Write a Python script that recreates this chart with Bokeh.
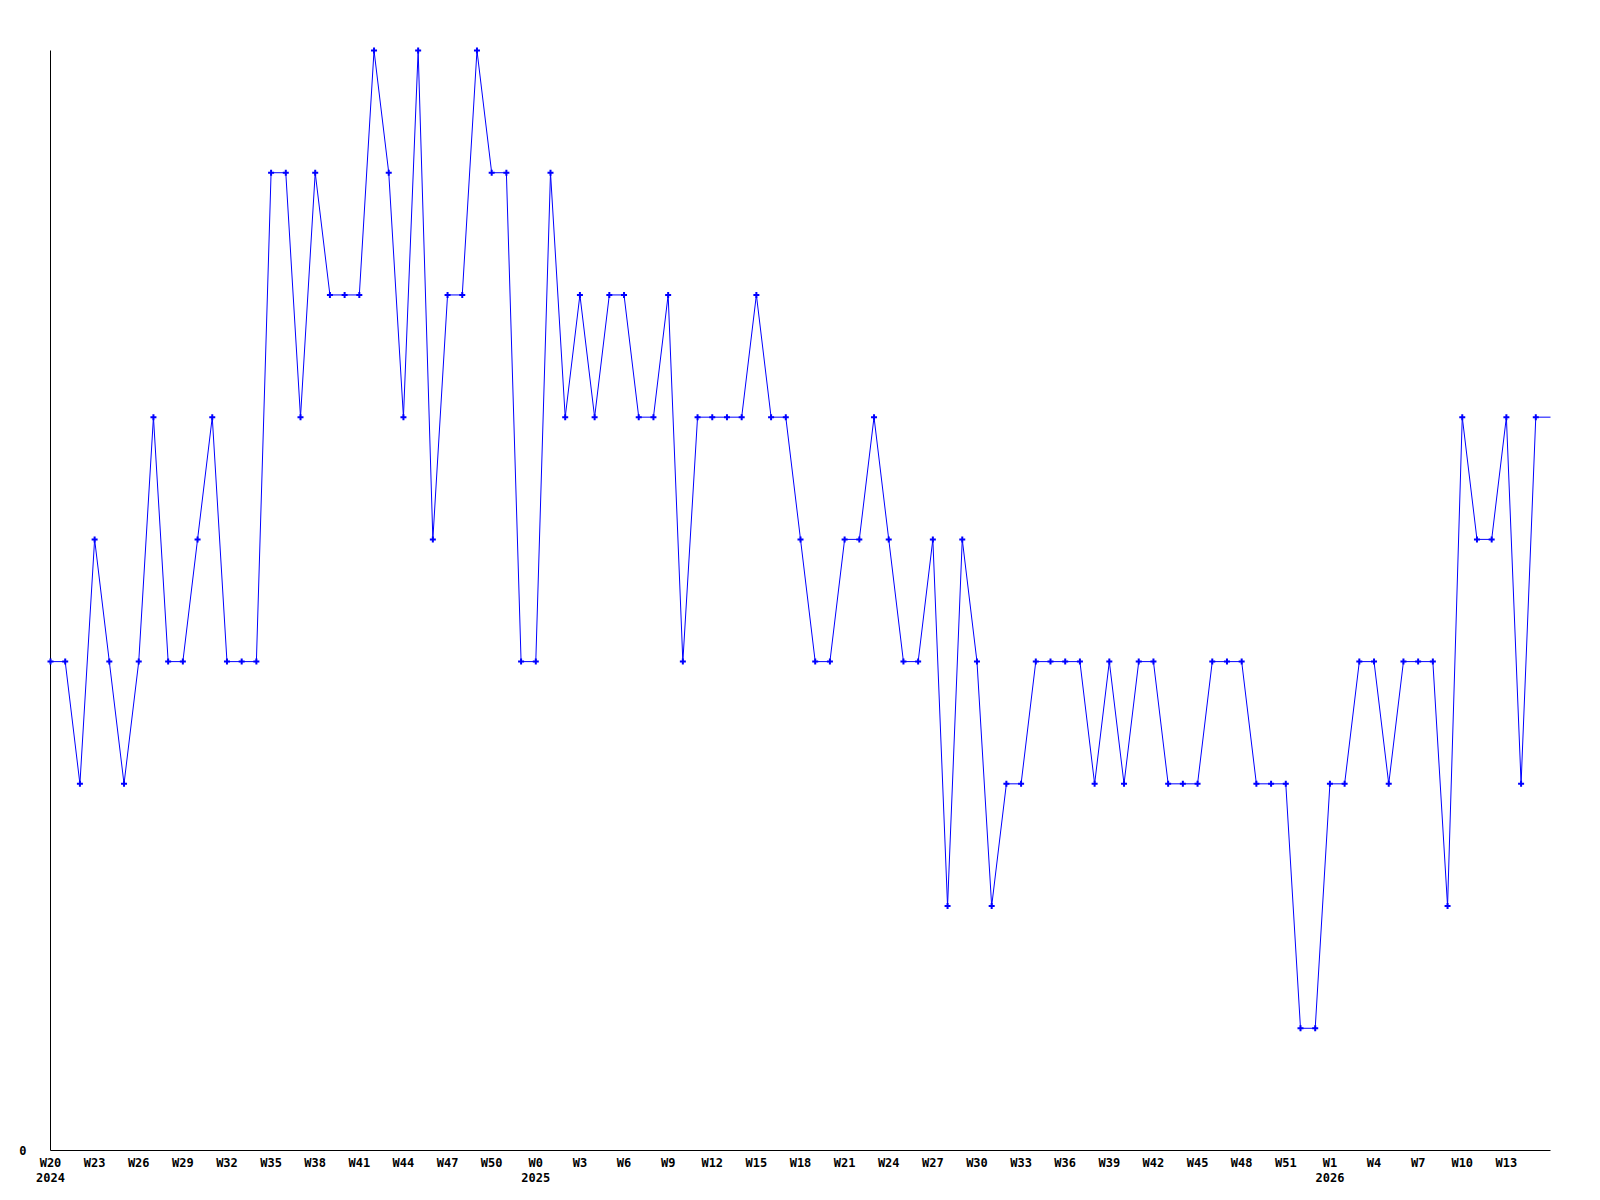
from bokeh.plotting import figure
from bokeh.models import Range1d, FixedTicker, LinearAxis, ColumnDataSource
from bokeh.embed import file_html
from bokeh.resources import INLINE

# weekly values, starting at week 20 of 2024
values = [4, 4, 3, 5, 4, 3, 4, 6, 4, 4,
          5, 6, 4, 4, 4, 8, 8, 6, 8, 7,
          7, 7, 9, 8, 6, 9, 5, 7, 7, 9,
          8, 8, 4, 4, 8, 6, 7, 6, 7, 7,
          6, 6, 7, 4, 6, 6, 6, 6, 7, 6,
          6, 5, 4, 4, 5, 5, 6, 5, 4, 4,
          5, 2, 5, 4, 2, 3, 3, 4, 4, 4,
          4, 3, 4, 3, 4, 4, 3, 3, 3, 4,
          4, 4, 3, 3, 3, 1, 1, 3, 3, 4,
          4, 3, 4, 4, 4, 2, 6, 5, 5, 6,
          3, 6]
# current (partial) week, drawn as line only
current_value = 6

week_labels = ["W20", "W23", "W26", "W29", "W32", "W35", "W38", "W41", "W44",
               "W47", "W50", "W0", "W3", "W6", "W9", "W12", "W15", "W18",
               "W21", "W24", "W27", "W30", "W33", "W36", "W39", "W42", "W45",
               "W48", "W51", "W1", "W4", "W7", "W10", "W13"]
week_label_pos = [3 * i for i in range(len(week_labels))]
year_labels = ["2024", "2025", "2026"]
year_label_pos = [0, 33, 87]
y_tick_labels = ["0"]
y_tick_pos = [0]

idx = list(range(len(values)))
line_x = idx + [len(values)]
line_y = values + [current_value]

BLUE = "#0000ff"
FONT = "DejaVu Sans Mono"

p = figure(width=1584, height=1184,
           x_range=Range1d(0, len(values)), y_range=Range1d(0, 9),
           x_axis_type=None, y_axis_type=None,
           output_backend="svg", toolbar_location=None,
           min_border_left=50, min_border_right=34,
           min_border_top=50, min_border_bottom=34,
           background_fill_color="white", border_fill_color="white")
p.outline_line_color = None


def style_axis(ax, standoff):
    ax.major_tick_out = 0
    ax.major_tick_in = 0
    ax.minor_tick_out = 0
    ax.minor_tick_in = 0
    ax.major_label_standoff = standoff
    ax.major_label_text_font = FONT
    ax.major_label_text_font_style = "bold"
    ax.major_label_text_font_size = "12px"
    ax.major_label_text_color = "black"
    ax.axis_line_color = "black"
    ax.axis_line_width = 1


xaxis = LinearAxis(ticker=FixedTicker(ticks=week_label_pos, minor_ticks=[]),
                   major_label_overrides={pos: lab for pos, lab in zip(week_label_pos, week_labels)})
style_axis(xaxis, 5)
p.add_layout(xaxis, "below")

yearaxis = LinearAxis(ticker=FixedTicker(ticks=year_label_pos, minor_ticks=[]),
                      major_label_overrides={pos: lab for pos, lab in zip(year_label_pos, year_labels)})
style_axis(yearaxis, 0)
yearaxis.axis_line_color = None
p.add_layout(yearaxis, "below")

yaxis = LinearAxis(ticker=FixedTicker(ticks=y_tick_pos, minor_ticks=[]),
                   major_label_overrides={pos: lab for pos, lab in zip(y_tick_pos, y_tick_labels)})
style_axis(yaxis, 24)
p.add_layout(yaxis, "left")

line_src = ColumnDataSource(dict(x=line_x, y=line_y))
pt_src = ColumnDataSource(dict(x=idx, y=values))
p.line("x", "y", source=line_src, line_color=BLUE, line_width=1, level="overlay")
p.scatter("x", "y", source=pt_src, marker="cross", size=6, line_width=2,
          line_color=BLUE, level="overlay")

open("out.html", "w").write(file_html(p, INLINE))
